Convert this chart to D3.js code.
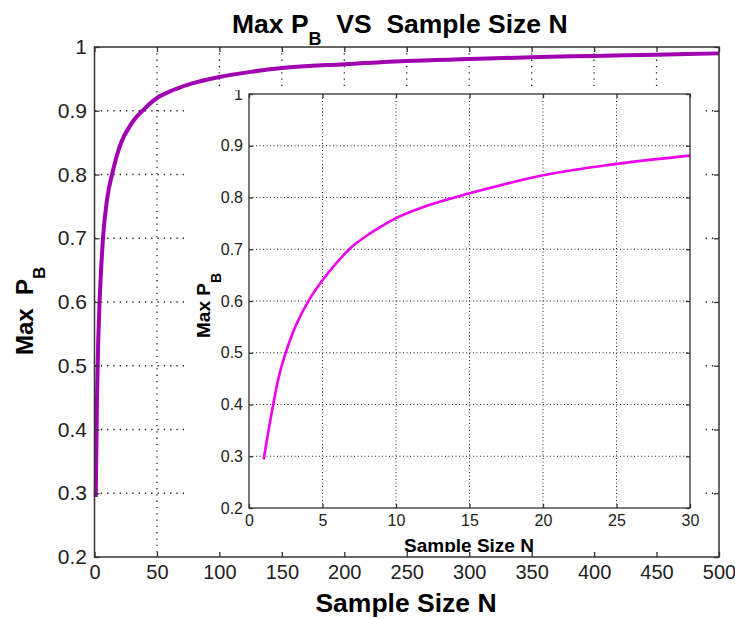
<!DOCTYPE html>
<html>
<head>
<meta charset="utf-8">
<script src="https://cdn.jsdelivr.net/npm/d3@7"></script>
<style>
  body { margin: 0; background: #fff; }
  svg { display: block; }
  .tick text { font-family: "Liberation Sans Narrow", "Liberation Sans", Arial, sans-serif; fill: #222; }
  .lab { font-family: "Liberation Sans", Arial, sans-serif; font-weight: bold; fill: #000; white-space: pre; }
</style>
</head>
<body>
<div id="chart"></div>
<script>
// values
var nMain = [1, 2, 3, 4, 5, 7, 10, 15, 20, 30, 40, 50, 60, 75, 100, 125, 150, 200, 250, 300, 350, 400, 450, 500];
var pMain = [0.294, 0.45, 0.54, 0.598, 0.64, 0.705, 0.76, 0.808, 0.843, 0.881, 0.903, 0.92, 0.93, 0.941, 0.953, 0.961, 0.967, 0.973, 0.978, 0.981, 0.984, 0.986, 0.988, 0.99];

var nInset = [1, 2, 3, 4, 5, 6, 7, 8, 9, 10, 12, 15, 18, 20, 25, 30];
var pInset = [0.294, 0.45, 0.54, 0.598, 0.64, 0.675, 0.705, 0.726, 0.744, 0.76, 0.783, 0.808, 0.83, 0.843, 0.865, 0.881];

var yTicks = [0.2, 0.3, 0.4, 0.5, 0.6, 0.7, 0.8, 0.9, 1];
var yTickLabels = ["0.2", "0.3", "0.4", "0.5", "0.6", "0.7", "0.8", "0.9", "1"];
var xTicksMain = [0, 50, 100, 150, 200, 250, 300, 350, 400, 450, 500];
var xTicksInset = [0, 5, 10, 15, 20, 25, 30];

var W = 735, H = 619;
var svg = d3.select("#chart").append("svg").attr("width", W).attr("height", H);

var yFmt = function (d) { return yTickLabels[yTicks.indexOf(d)]; };

// ---------- main axes ----------
var main = { left: 94.5, right: 719, top: 47, bottom: 557 };
var x = d3.scaleLinear().domain([0, 500]).range([main.left, main.right]);
var y = d3.scaleLinear().domain([0.2, 1]).range([main.bottom, main.top]);

var g = svg.append("g");

// grid
g.append("g").selectAll("line.vg")
    .data(xTicksMain.slice(1, -1)).enter().append("line")
    .attr("x1", d => x(d)).attr("x2", d => x(d))
    .attr("y1", main.top).attr("y2", main.bottom)
    .attr("stroke", "#222").attr("stroke-width", 1.3).attr("stroke-dasharray", "1.3,5");
g.append("g").selectAll("line.hg")
    .data(yTicks.slice(1, -1)).enter().append("line")
    .attr("x1", main.left).attr("x2", main.right)
    .attr("y1", d => y(d)).attr("y2", d => y(d))
    .attr("stroke", "#222").attr("stroke-width", 1.3).attr("stroke-dasharray", "1.3,5");

// curve
g.append("path")
    .datum(nMain.map((n, i) => [n, pMain[i]]))
    .attr("fill", "none")
    .attr("stroke", "#a000b0")
    .attr("stroke-width", 4)
    .attr("d", d3.line().curve(d3.curveMonotoneX).x(d => x(d[0])).y(d => y(d[1])));

// axes with inward ticks
function styleAxis(sel, size) {
  sel.select(".domain").remove();
  sel.selectAll(".tick line").attr("stroke", "#333").attr("stroke-width", 1.3);
  sel.selectAll(".tick text").style("font-size", size + "px");
}
g.append("g").attr("transform", `translate(0,${main.bottom})`)
    .call(d3.axisBottom(x).tickValues(xTicksMain).tickSize(-5).tickPadding(8))
    .call(s => styleAxis(s, 20));
g.append("g").attr("transform", `translate(0,${main.top})`)
    .call(d3.axisTop(x).tickValues(xTicksMain).tickSize(-5).tickFormat(""))
    .call(s => styleAxis(s, 20));
g.append("g").attr("transform", `translate(${main.left},0)`)
    .call(d3.axisLeft(y).tickValues(yTicks).tickFormat(yFmt).tickSize(-5).tickPadding(7.5))
    .call(s => styleAxis(s, 21));
g.append("g").attr("transform", `translate(${main.right},0)`)
    .call(d3.axisRight(y).tickValues(yTicks).tickSize(-5).tickFormat(""))
    .call(s => styleAxis(s, 21));
g.append("rect")
    .attr("x", main.left).attr("y", main.top)
    .attr("width", main.right - main.left).attr("height", main.bottom - main.top)
    .attr("fill", "none").attr("stroke", "#333").attr("stroke-width", 1.5);

// title and labels
var title = svg.append("text").attr("class", "lab")
    .attr("x", 232).attr("y", 33).style("font-size", "26.5px");
title.append("tspan").text("Max P");
title.append("tspan").attr("dy", 12).style("font-size", "18px").text("B");
title.append("tspan").attr("dy", -12).text("  VS  Sample Size N");

svg.append("text").attr("class", "lab")
    .attr("x", 406).attr("y", 612).attr("text-anchor", "middle")
    .style("font-size", "26.5px").text("Sample Size N");

var ylab = svg.append("text").attr("class", "lab")
    .attr("transform", "translate(33,355) rotate(-90)")
    .style("font-size", "24px");
ylab.append("tspan").text("Max  P");
ylab.append("tspan").attr("dy", 12).style("font-size", "17px").text("B");

// ---------- inset ----------
var box = { left: 188, right: 702, top: 90, bottom: 552 };
svg.append("clipPath").attr("id", "insetClip")
  .append("rect").attr("x", box.left).attr("y", box.top)
    .attr("width", box.right - box.left).attr("height", box.bottom - box.top);

var ig = svg.append("g").attr("clip-path", "url(#insetClip)");
ig.append("rect").attr("x", box.left).attr("y", box.top)
    .attr("width", box.right - box.left).attr("height", box.bottom - box.top)
    .attr("fill", "#fff");

var inset = { left: 249, right: 690, top: 94, bottom: 508 };
var xi = d3.scaleLinear().domain([0, 30]).range([inset.left, inset.right]);
var yi = d3.scaleLinear().domain([0.2, 1]).range([inset.bottom, inset.top]);

ig.append("g").selectAll("line.vg")
    .data(xTicksInset.slice(1, -1)).enter().append("line")
    .attr("x1", d => xi(d)).attr("x2", d => xi(d))
    .attr("y1", inset.top).attr("y2", inset.bottom)
    .attr("stroke", "#222").attr("stroke-width", 1).attr("stroke-dasharray", "1,2.5");
ig.append("g").selectAll("line.hg")
    .data(yTicks.slice(1, -1)).enter().append("line")
    .attr("x1", inset.left).attr("x2", inset.right)
    .attr("y1", d => yi(d)).attr("y2", d => yi(d))
    .attr("stroke", "#222").attr("stroke-width", 1).attr("stroke-dasharray", "1,2.5");

ig.append("path")
    .datum(nInset.map((n, i) => [n, pInset[i]]))
    .attr("fill", "none")
    .attr("stroke", "#ee00ee")
    .attr("stroke-width", 2.6)
    .attr("d", d3.line().curve(d3.curveMonotoneX).x(d => xi(d[0])).y(d => yi(d[1])));

ig.append("g").attr("transform", `translate(0,${inset.bottom})`)
    .call(d3.axisBottom(xi).tickValues(xTicksInset).tickSize(-4).tickPadding(7))
    .call(s => styleAxis(s, 16));
ig.append("g").attr("transform", `translate(0,${inset.top})`)
    .call(d3.axisTop(xi).tickValues(xTicksInset).tickSize(-4).tickFormat(""))
    .call(s => styleAxis(s, 16));
ig.append("g").attr("transform", `translate(${inset.left},0)`)
    .call(d3.axisLeft(yi).tickValues(yTicks).tickFormat(yFmt).tickSize(-4).tickPadding(6))
    .call(s => styleAxis(s, 16));
ig.append("g").attr("transform", `translate(${inset.right},0)`)
    .call(d3.axisRight(yi).tickValues(yTicks).tickSize(-4).tickFormat(""))
    .call(s => styleAxis(s, 16));
ig.append("rect")
    .attr("x", inset.left).attr("y", inset.top)
    .attr("width", inset.right - inset.left).attr("height", inset.bottom - inset.top)
    .attr("fill", "none").attr("stroke", "#333").attr("stroke-width", 1.3);

ig.append("text").attr("class", "lab")
    .attr("x", 469).attr("y", 551.5).attr("text-anchor", "middle")
    .style("font-size", "19px").text("Sample Size N");

var iylab = ig.append("text").attr("class", "lab")
    .attr("transform", "translate(210,338) rotate(-90)")
    .style("font-size", "19px");
iylab.append("tspan").text("Max P");
iylab.append("tspan").attr("dy", 11).style("font-size", "14px").text("B");
</script>
</body>
</html>
